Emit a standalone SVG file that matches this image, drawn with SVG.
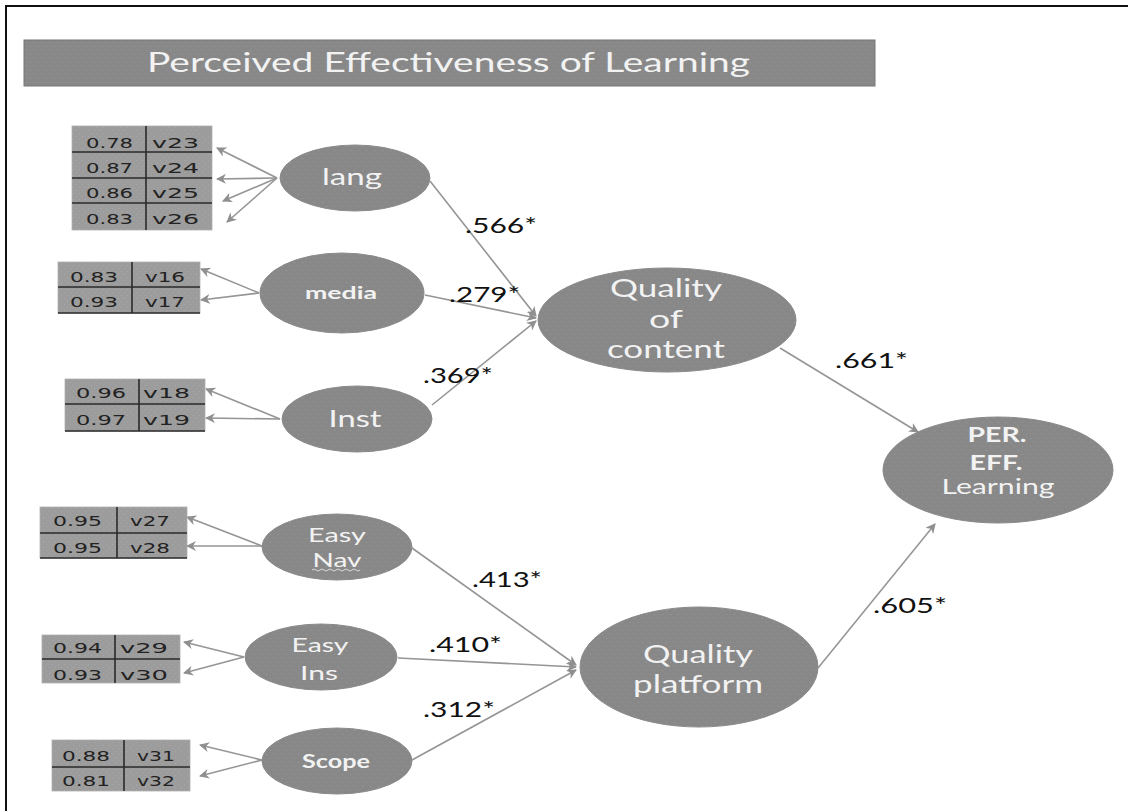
<svg xmlns="http://www.w3.org/2000/svg" width="1128" height="811" viewBox="0 0 1128 811">
<defs>
<pattern id="dots" width="8" height="8" patternUnits="userSpaceOnUse">
<rect width="8" height="8" fill="#888888"/>
<rect x="2" y="2" width="1" height="1" fill="#9a9a9a"/>
<rect x="6" y="6" width="1" height="1" fill="#9a9a9a"/>
</pattern>
<pattern id="dots2" width="6" height="6" patternUnits="userSpaceOnUse">
<rect width="6" height="6" fill="#9c9c9c"/>
<rect x="1" y="1" width="1" height="1" fill="#a8a8a8"/>
<rect x="4" y="4" width="1" height="1" fill="#a8a8a8"/>
</pattern>
<marker id="arr" viewBox="0 0 10 10" refX="9" refY="5" markerWidth="10" markerHeight="10" markerUnits="userSpaceOnUse" orient="auto">
<path d="M0,0 L10,5 L0,10 L3,5 Z" fill="#8f8f8f"/>
</marker>
<style>
.el{fill:url(#dots);stroke:#8a8a8a;stroke-width:1}
.tb{fill:url(#dots2);stroke:#b0b0b0;stroke-width:0.8}
.tl{stroke:#2a2a2a;stroke-width:1.6}
.tt{font-family:"DejaVu Sans",Verdana,sans-serif;font-size:14px;fill:#222222}
.nt{font-family:Lato,"Open Sans",sans-serif;fill:#f2f2f2;text-anchor:middle}
.lb{font-family:Lato,"Open Sans",sans-serif;font-size:21px;fill:#111111}
.cn{stroke:#959595;stroke-width:1.6;fill:none;marker-end:url(#arr)}
</style>
</defs>
<rect width="1128" height="811" fill="#ffffff"/>
<g id="frame">
<line x1="5" y1="6" x2="1128" y2="6" stroke="#111" stroke-width="2"/>
<line x1="6" y1="5" x2="6" y2="811" stroke="#111" stroke-width="2"/>
</g>
<g id="title">
<rect x="24" y="40" width="851" height="46" fill="url(#dots)" stroke="#777" stroke-width="1"/>
<text x="147" y="72" font-family="Lato,'Open Sans',sans-serif" font-size="27" fill="#f2f2f2" textLength="603" lengthAdjust="spacingAndGlyphs">Perceived Effectiveness of Learning</text>
</g>
<g id="connectors">
<line class="cn" x1="277" y1="178" x2="217" y2="148"/>
<line class="cn" x1="277" y1="178" x2="217" y2="179"/>
<line class="cn" x1="277" y1="178" x2="223" y2="201"/>
<line class="cn" x1="277" y1="178" x2="227" y2="222"/>
<line class="cn" x1="259" y1="293" x2="201" y2="269"/>
<line class="cn" x1="259" y1="293" x2="201" y2="300"/>
<line class="cn" x1="280" y1="419" x2="206" y2="389"/>
<line class="cn" x1="280" y1="419" x2="206" y2="418"/>
<line class="cn" x1="262" y1="546" x2="187" y2="517"/>
<line class="cn" x1="262" y1="546" x2="187" y2="546"/>
<line class="cn" x1="244" y1="657" x2="184" y2="642"/>
<line class="cn" x1="244" y1="657" x2="184" y2="673"/>
<line class="cn" x1="262" y1="760" x2="200" y2="745"/>
<line class="cn" x1="262" y1="760" x2="200" y2="776"/>
<line class="cn" x1="430" y1="181" x2="536" y2="316"/>
<line class="cn" x1="425" y1="295" x2="536" y2="318"/>
<line class="cn" x1="432" y1="405" x2="536" y2="321"/>
<line class="cn" x1="412" y1="548" x2="576" y2="665"/>
<line class="cn" x1="398" y1="658" x2="576" y2="667"/>
<line class="cn" x1="412" y1="760" x2="576" y2="670"/>
<line class="cn" x1="780" y1="348" x2="918" y2="432"/>
<line class="cn" x1="818" y1="668" x2="935" y2="524"/>
</g>
<g id="labels">
<text class="lb" x="465" y="233" textLength="72" lengthAdjust="spacingAndGlyphs">.566*</text>
<text class="lb" x="449" y="302" textLength="71" lengthAdjust="spacingAndGlyphs">.279*</text>
<text class="lb" x="423" y="383" textLength="70" lengthAdjust="spacingAndGlyphs">.369*</text>
<text class="lb" x="472" y="587" textLength="70" lengthAdjust="spacingAndGlyphs">.413*</text>
<text class="lb" x="429" y="652" textLength="73" lengthAdjust="spacingAndGlyphs">.410*</text>
<text class="lb" x="423" y="717" textLength="72" lengthAdjust="spacingAndGlyphs">.312*</text>
<text class="lb" x="835" y="368" textLength="73" lengthAdjust="spacingAndGlyphs">.661*</text>
<text class="lb" x="873" y="613" textLength="74" lengthAdjust="spacingAndGlyphs">.605*</text>
</g>
<g id="t-lang">
<rect class="tb" x="72" y="126" width="140" height="104"/>
<line class="tl" x1="72" y1="152" x2="212" y2="152"/>
<line class="tl" x1="72" y1="178" x2="212" y2="178"/>
<line class="tl" x1="72" y1="203" x2="212" y2="203"/>
<line class="tl" x1="146" y1="126" x2="146" y2="230"/>
<text class="tt" x="86" y="148" textLength="47" lengthAdjust="spacingAndGlyphs">0.78</text>
<text class="tt" x="152" y="148" textLength="47" lengthAdjust="spacingAndGlyphs">v23</text>
<text class="tt" x="86" y="173" textLength="47" lengthAdjust="spacingAndGlyphs">0.87</text>
<text class="tt" x="152" y="173" textLength="47" lengthAdjust="spacingAndGlyphs">v24</text>
<text class="tt" x="86" y="198" textLength="47" lengthAdjust="spacingAndGlyphs">0.86</text>
<text class="tt" x="152" y="198" textLength="47" lengthAdjust="spacingAndGlyphs">v25</text>
<text class="tt" x="86" y="224" textLength="47" lengthAdjust="spacingAndGlyphs">0.83</text>
<text class="tt" x="152" y="224" textLength="47" lengthAdjust="spacingAndGlyphs">v26</text>
</g>
<g id="t-media">
<rect class="tb" x="58" y="262" width="142" height="51"/>
<line class="tl" x1="58" y1="287" x2="200" y2="287"/>
<line class="tl" x1="58" y1="313" x2="200" y2="313"/>
<line class="tl" x1="132" y1="262" x2="132" y2="313"/>
<text class="tt" x="70" y="282" textLength="48" lengthAdjust="spacingAndGlyphs">0.83</text>
<text class="tt" x="145" y="282" textLength="40" lengthAdjust="spacingAndGlyphs">v16</text>
<text class="tt" x="70" y="307" textLength="48" lengthAdjust="spacingAndGlyphs">0.93</text>
<text class="tt" x="145" y="307" textLength="40" lengthAdjust="spacingAndGlyphs">v17</text>
</g>
<g id="t-inst">
<rect class="tb" x="65" y="379" width="140" height="52"/>
<line class="tl" x1="65" y1="404" x2="205" y2="404"/>
<line class="tl" x1="65" y1="431" x2="205" y2="431"/>
<line class="tl" x1="139" y1="379" x2="139" y2="431"/>
<text class="tt" x="76" y="398" textLength="50" lengthAdjust="spacingAndGlyphs">0.96</text>
<text class="tt" x="143" y="398" textLength="47" lengthAdjust="spacingAndGlyphs">v18</text>
<text class="tt" x="76" y="425" textLength="50" lengthAdjust="spacingAndGlyphs">0.97</text>
<text class="tt" x="143" y="425" textLength="47" lengthAdjust="spacingAndGlyphs">v19</text>
</g>
<g id="t-nav">
<rect class="tb" x="40" y="507" width="147" height="51"/>
<line class="tl" x1="40" y1="533" x2="187" y2="533"/>
<line class="tl" x1="40" y1="558" x2="187" y2="558"/>
<line class="tl" x1="117" y1="507" x2="117" y2="558"/>
<text class="tt" x="53" y="526" textLength="49" lengthAdjust="spacingAndGlyphs">0.95</text>
<text class="tt" x="130" y="526" textLength="40" lengthAdjust="spacingAndGlyphs">v27</text>
<text class="tt" x="53" y="553" textLength="49" lengthAdjust="spacingAndGlyphs">0.95</text>
<text class="tt" x="130" y="553" textLength="40" lengthAdjust="spacingAndGlyphs">v28</text>
</g>
<g id="t-ins">
<rect class="tb" x="42" y="635" width="138" height="48"/>
<line class="tl" x1="42" y1="659" x2="180" y2="659"/>
<line class="tl" x1="115" y1="635" x2="115" y2="683"/>
<text class="tt" x="53" y="653" textLength="49" lengthAdjust="spacingAndGlyphs">0.94</text>
<text class="tt" x="120" y="653" textLength="48" lengthAdjust="spacingAndGlyphs">v29</text>
<text class="tt" x="53" y="680" textLength="49" lengthAdjust="spacingAndGlyphs">0.93</text>
<text class="tt" x="120" y="680" textLength="48" lengthAdjust="spacingAndGlyphs">v30</text>
</g>
<g id="t-scope">
<rect class="tb" x="52" y="740" width="138" height="51"/>
<line class="tl" x1="52" y1="767" x2="190" y2="767"/>
<line class="tl" x1="124" y1="740" x2="124" y2="791"/>
<text class="tt" x="62" y="761" textLength="48" lengthAdjust="spacingAndGlyphs">0.88</text>
<text class="tt" x="137" y="761" textLength="38" lengthAdjust="spacingAndGlyphs">v31</text>
<text class="tt" x="62" y="786" textLength="48" lengthAdjust="spacingAndGlyphs">0.81</text>
<text class="tt" x="137" y="786" textLength="38" lengthAdjust="spacingAndGlyphs">v32</text>
</g>
<g id="n-lang">
<ellipse class="el" cx="355" cy="178" rx="75" ry="33"/>
<text class="nt" x="352" y="185" font-size="23" textLength="60" lengthAdjust="spacingAndGlyphs">lang</text>
</g>
<g id="n-media">
<ellipse class="el" cx="342" cy="293" rx="82" ry="40"/>
<text class="nt" x="341" y="299" font-size="17" font-weight="bold" textLength="72" lengthAdjust="spacingAndGlyphs">media</text>
</g>
<g id="n-inst">
<ellipse class="el" cx="357" cy="419" rx="75" ry="33"/>
<text class="nt" x="355" y="427" font-size="23" textLength="53" lengthAdjust="spacingAndGlyphs">Inst</text>
</g>
<g id="n-easynav">
<ellipse class="el" cx="337" cy="547" rx="75" ry="33"/>
<text class="nt" x="337" y="542" font-size="20" textLength="58" lengthAdjust="spacingAndGlyphs">Easy</text>
<text class="nt" x="337" y="567" font-size="20" textLength="49" lengthAdjust="spacingAndGlyphs">Nav</text>
<path d="M312,570 q2,-2 4,0 t4,0 t4,0 t4,0 t4,0 t4,0 t4,0 t4,0 t4,0 t4,0 t4,0 t4,0" fill="none" stroke="#d8d8d8" stroke-width="1"/>
</g>
<g id="n-easyins">
<ellipse class="el" cx="321" cy="657" rx="76" ry="33"/>
<text class="nt" x="320" y="652" font-size="20" textLength="57" lengthAdjust="spacingAndGlyphs">Easy</text>
<text class="nt" x="319" y="680" font-size="20" textLength="38" lengthAdjust="spacingAndGlyphs">Ins</text>
</g>
<g id="n-scope">
<ellipse class="el" cx="337" cy="761" rx="75" ry="33"/>
<text class="nt" x="336" y="768" font-size="18" font-weight="bold" textLength="68" lengthAdjust="spacingAndGlyphs">Scope</text>
</g>
<g id="n-qoc">
<ellipse class="el" cx="667" cy="320" rx="129" ry="52"/>
<text class="nt" x="666" y="297" font-size="25" textLength="112" lengthAdjust="spacingAndGlyphs">Quality</text>
<text class="nt" x="666" y="328" font-size="25" textLength="34" lengthAdjust="spacingAndGlyphs">of</text>
<text class="nt" x="666" y="358" font-size="25" textLength="118" lengthAdjust="spacingAndGlyphs">content</text>
</g>
<g id="n-qp">
<ellipse class="el" cx="699" cy="667" rx="119" ry="60"/>
<text class="nt" x="698" y="663" font-size="25" textLength="110" lengthAdjust="spacingAndGlyphs">Quality</text>
<text class="nt" x="698" y="693" font-size="25" textLength="130" lengthAdjust="spacingAndGlyphs">platform</text>
</g>
<g id="n-per">
<ellipse class="el" cx="998" cy="470" rx="115" ry="53"/>
<text class="nt" x="997" y="442" font-size="21" font-weight="bold" textLength="59" lengthAdjust="spacingAndGlyphs">PER.</text>
<text class="nt" x="996" y="470" font-size="21" font-weight="bold" textLength="53" lengthAdjust="spacingAndGlyphs">EFF.</text>
<text class="nt" x="998" y="494" font-size="21" textLength="113" lengthAdjust="spacingAndGlyphs">Learning</text>
</g>
</svg>
